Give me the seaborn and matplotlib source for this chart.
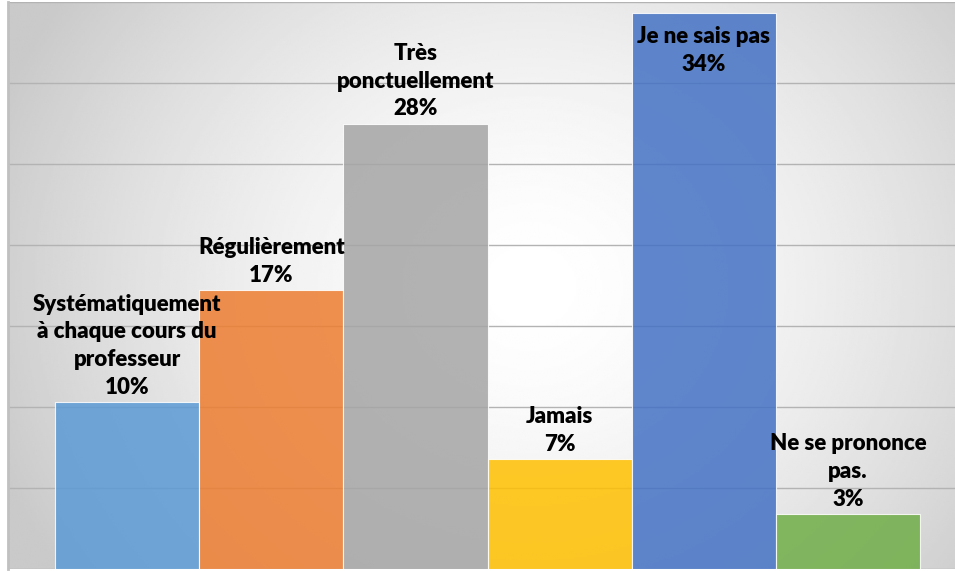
import numpy as np
import pandas as pd
import matplotlib
matplotlib.use("Agg")
import matplotlib.pyplot as plt
import seaborn as sns

categories = ["Systématiquement\nà chaque cours du\nprofesseur", "Régulièrement",
              "Très\nponctuellement", "Jamais", "Je ne sais pas", "Ne se prononce\npas."]
values = [10.3, 17.2, 27.5, 6.8, 34.3, 3.4]
pct_labels = ["10%", "17%", "28%", "7%", "34%", "3%"]
colors = ["#5B9BD5", "#ED7D31", "#A5A5A5", "#FFC000", "#4472C4", "#70AD47"]

df = pd.DataFrame({"cat": categories, "val": values})

sns.set_style("white")
plt.rcParams["font.family"] = ["Lato", "DejaVu Sans"]

fig = plt.figure(figsize=(9.55, 5.71), dpi=100)
ax = fig.add_axes([8 / 955, 2 / 571, 947 / 955, 567 / 571])

# radial grey background like the office chart style
h, w = 300, 500
yy, xx = np.mgrid[0:h, 0:w]
cx, cy = 0.55 * w, 0.5 * h
d = np.sqrt(((xx - cx) / (0.6 * w)) ** 2 + ((yy - cy) / (0.9 * h)) ** 2)
shade = 1.0 - 0.21 * np.clip(d, 0, 1) ** 1.6
ax.imshow(shade, cmap="gray", vmin=0, vmax=1, extent=(0, 1, 0, 1),
          transform=ax.transAxes, aspect="auto", zorder=0, interpolation="bilinear")

sns.barplot(data=df, x="cat", y="val", hue="cat", palette=colors, width=1.0,
            legend=False, ax=ax, saturation=1, alpha=0.85, edgecolor="white",
            linewidth=0.8, zorder=3)

ax.set_ylim(0, 35)
ax.set_xlim(-0.5 - 47 / 144, 5.5 + 35 / 144)
ax.set_yticks(np.arange(0, 36, 5))
ax.set_xticks([])
ax.set_yticklabels([])
ax.tick_params(left=False, bottom=False)
ax.grid(axis="y", color="#b3b3b3", linewidth=1.0, zorder=1)
ax.set_axisbelow(True)
ax.set_xlabel("")
ax.set_ylabel("")
for s in ["top", "right", "bottom"]:
    ax.spines[s].set_visible(False)
ax.spines["left"].set_color("#c0c0c0")
ax.spines["left"].set_linewidth(2)

for i, (cat, v, p) in enumerate(zip(categories, values, pct_labels)):
    txt = cat + "\n" + p
    if v > 33:
        ax.annotate(txt, (i, v), xytext=(0, -9), textcoords="offset points",
                    ha="center", va="top", fontsize=16, fontweight="heavy",
                    linespacing=1.4, color="black", zorder=5)
    else:
        ax.annotate(txt, (i, v), xytext=(0, 3), textcoords="offset points",
                    ha="center", va="bottom", fontsize=16, fontweight="heavy",
                    linespacing=1.4, color="black", zorder=5)

fig.savefig("out.png", dpi=100)
